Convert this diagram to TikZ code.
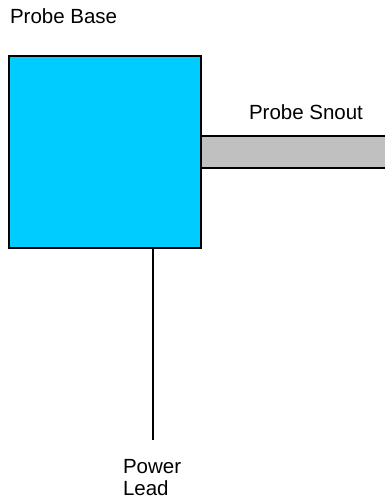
\documentclass[tikz,border=0pt]{standalone}
\usepackage{fontspec}
\setmainfont{Liberation Sans}
\usetikzlibrary{calc}
\definecolor{basecyan}{HTML}{00CCFF}
\definecolor{snoutgray}{HTML}{C0C0C0}
\tikzset{
  part/.style={draw=black, line width=1.5pt, inner sep=0pt, outer sep=0pt},
  lbl/.style={inner sep=0pt, outer sep=0pt, font=\fontsize{20.5}{22}\selectfont, align=left},
  wire/.style={draw=black, line width=1.5pt}
}
\begin{document}
\begin{tikzpicture}[x=1pt, y=-1pt]
\useasboundingbox (0,0) rectangle (385,500);
\clip (0,0) rectangle (385,500);
\node[part, fill=snoutgray, minimum width=200pt, minimum height=32pt, anchor=west] (snout) at (201,152) {};
\node[part, fill=basecyan, minimum width=192pt, minimum height=192pt] (base) at (105,152) {};
\coordinate (leadend) at (153,440);
\draw[wire] ($(base.south west)!0.75!(base.south east)$) -- (leadend);
\node[lbl, anchor=base west] (tbase) at (10,24) {Probe Base};
\node[lbl, anchor=base west] (tsnout) at (249,119) {Probe Snout};
\node[lbl, anchor=base west] (tlead) at (123,495) {Power\\Lead};
\end{tikzpicture}
\end{document}
